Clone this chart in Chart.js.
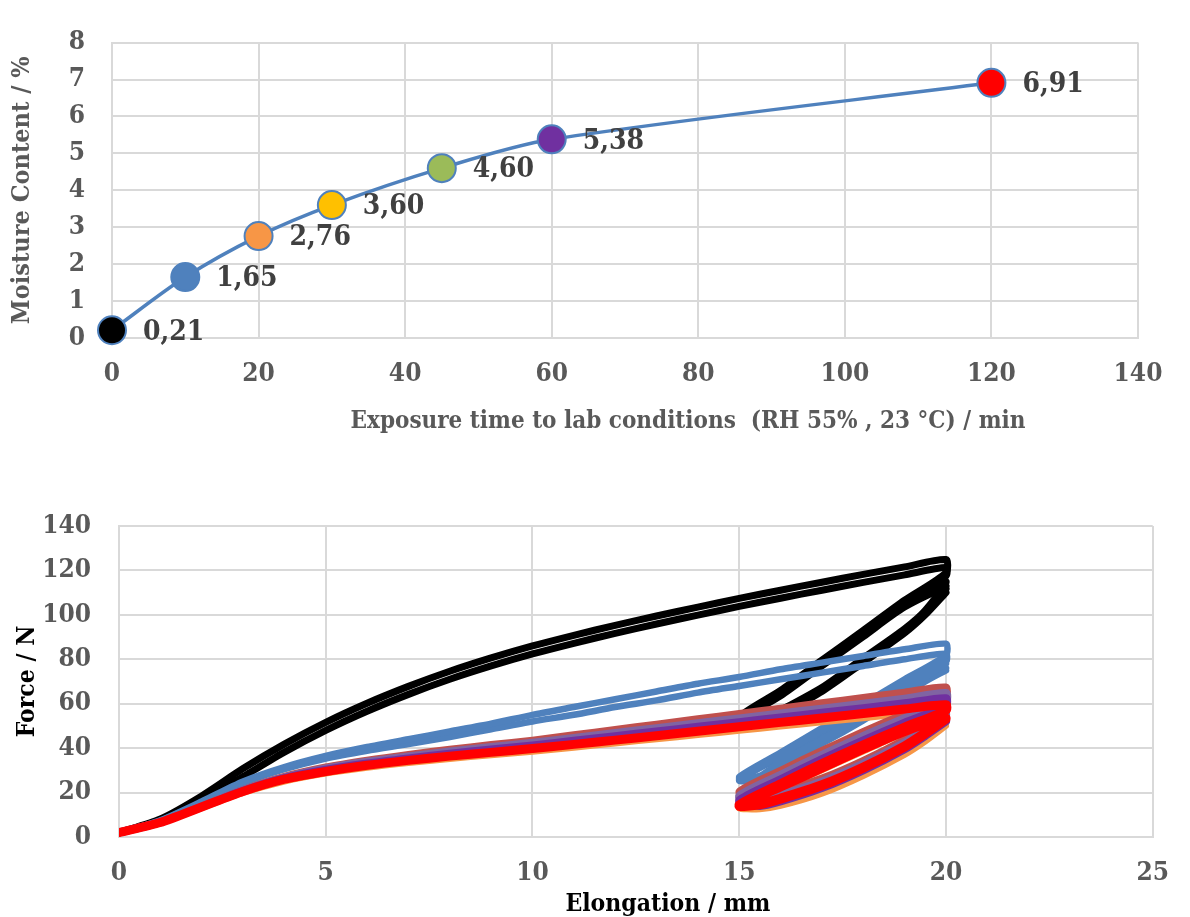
<!DOCTYPE html>
<html>
<head>
<meta charset="utf-8">
<script src="https://cdn.jsdelivr.net/npm/chart.js@4.4.1/dist/chart.umd.min.js"></script>
<style>
  html, body { margin: 0; padding: 0; background: #ffffff; }
  #wrap { position: relative; width: 1190px; height: 917px; overflow: hidden; }
  #moistureChart { position: absolute; left: 0; top: 0; }
  #forceChart { position: absolute; left: 0; top: 455px; }
</style>
</head>
<body>
<div id="wrap">
  <canvas id="moistureChart" width="1190" height="455"></canvas>
  <canvas id="forceChart" width="1190" height="462"></canvas>
</div>
<script>
// ---------- Moisture uptake vs. exposure time ----------
const exposureMin = [0, 10, 20, 30, 45, 60, 120];
const moisturePct = [0.21, 1.65, 2.76, 3.60, 4.60, 5.38, 6.91];
const markerColors = ['#000000', '#4F81BD', '#F79646', '#FFC000', '#9BBB59', '#7030A0', '#FF0000'];

// ---------- Cyclic tensile curves (Force vs. Elongation) ----------
// loading ramp, 0 -> 20 mm
const loadX = [0, 1, 2, 3, 4, 5, 6, 7, 8, 9, 10, 11, 12, 13, 14, 15, 16, 17, 18, 19, 20];
// two unload / reload cycles between 20 and 15 mm
const cycleX = [20, 19, 18, 17, 16, 15,
                15.5, 16, 17, 18, 19, 19.5, 20,
                19, 18, 17, 16, 15,
                15.5, 16, 17, 18, 19, 19.5, 20];

const blackLoadA = [2, 8.1, 18.5, 30.8, 41.8, 51.6, 60.2, 67.8, 74.6, 80.6, 86, 90.8, 95.3, 99.5, 103.5, 107.4, 111.1, 114.7, 118.2, 121.6, 124.9];
const blackLoadB = [2, 7.5, 16.5, 27.2, 38.2, 48, 56.6, 64.2, 71, 77, 82.4, 87.2, 91.7, 95.9, 99.9, 103.8, 107.5, 111.1, 114.6, 118, 121.3];
const blackCycleA = [119, 106.6, 93, 79.6, 66, 54,
                     52, 57, 67.3, 80.5, 93.7, 102, 115,
                     104.5, 91.2, 78, 64.5, 53,
                     51.5, 56, 66.3, 79.5, 92.7, 101, 113];
const blackCycleB = [117.5, 105.2, 92, 78.5, 65, 52.5,
                     51, 56, 66, 79.2, 92.5, 100.5, 112,
                     103.5, 90.2, 77, 63.5, 52,
                     50.5, 55.3, 65.5, 78.5, 91.8, 100, 110];

const blueLoadA = [2, 7.5, 16, 25, 31.5, 36.5, 40.5, 44, 47.5, 51, 55, 58.5, 62, 65.5, 69, 72, 75.5, 78.5, 81.5, 84.5, 87];
const blueLoadB = [2, 7.3, 15.5, 24.2, 30.5, 35.3, 38.8, 41.8, 45, 48.5, 52, 55, 58.5, 61.5, 65, 68, 71, 74, 77, 80, 82.5];
const blueCycleA = [82, 71, 60, 49, 38, 27,
                    27.5, 34, 44, 55, 67, 73, 79,
                    69.5, 58.5, 48, 37, 26,
                    26.5, 33, 43, 54, 66, 72, 78];
const blueCycleB = [79, 68.5, 58, 47.5, 37, 26.5,
                    27, 33, 42.5, 53, 64.5, 70.5, 76,
                    67, 56.5, 46.5, 36, 25.5,
                    26, 32.5, 42, 52.5, 64, 70, 75];

const orangeLoad = [2, 6.3, 13, 19.8, 25, 28.6, 31.2, 33.3, 35.1, 36.8, 38.4, 40.2, 42.1, 44, 45.9, 47.8, 49.7, 51.6, 53.5, 55.5, 57.5];
const orangeCycle = [55.5, 48.5, 40.5, 32, 23, 13.5,
                     13, 14.5, 20, 28, 37.5, 43.5, 50.5,
                     46.5, 38.5, 30, 21.5, 13,
                     12.5, 14, 19.5, 27.5, 37, 43, 50];
const brickLoad = [2, 6.8, 14, 21.4, 27.3, 31.5, 34.6, 37.2, 39.5, 41.6, 43.6, 46, 48.4, 50.8, 53.2, 55.6, 58, 60.4, 62.8, 65.2, 67.5];
const brickCycle = [63, 55.5, 47.5, 39, 30, 20.5,
                    18, 20.5, 26.5, 34.5, 44, 50, 57,
                    53.5, 45.5, 37, 28.5, 20,
                    17.5, 20, 26, 34, 43.5, 49.5, 56.5];
const lavenderLoad = [2, 6.7, 13.8, 21.1, 26.9, 30.9, 33.9, 36.3, 38.5, 40.5, 42.4, 44.6, 46.8, 49, 51.2, 53.4, 55.6, 57.8, 60, 62.3, 64.8];
const lavenderCycle = [61, 53.5, 45.5, 37, 28, 18.5,
                       16.5, 19, 25, 33, 42.5, 48.5, 55.5,
                       51.5, 43.5, 35, 26.5, 18,
                       16, 18.5, 24.5, 32.5, 42, 48, 55];
const purpleLoad = [2, 6.6, 13.6, 20.8, 26.5, 30.3, 33.1, 35.4, 37.5, 39.4, 41.2, 43.3, 45.4, 47.5, 49.6, 51.7, 53.8, 55.9, 58, 60.2, 62.5];
const purpleCycle = [59, 51.5, 43.5, 35, 26, 16.5,
                     14.5, 16.5, 22.5, 30.5, 40, 46, 52.5,
                     49.5, 41.5, 33, 24.5, 16,
                     14, 16, 22, 30, 39.5, 45.5, 52];
const redLoad = [2, 6.5, 13.5, 20.5, 26, 29.5, 32.3, 34.5, 36.4, 38.1, 39.8, 41.7, 43.6, 45.6, 47.6, 49.6, 51.6, 53.6, 55.6, 57.6, 59.5];
const redCycle = [57, 49.5, 41.5, 33, 24, 14.5,
                  15, 17.5, 23.5, 31.5, 41, 47, 53.5,
                  47.5, 39.5, 31, 22.5, 14,
                  14.5, 17, 23, 31, 40.5, 46.5, 53];

const SERIF = "'DejaVu Serif Condensed', 'DejaVu Serif', serif";
const GRID = '#D9D9D9';
const TICK_GREY = '#595959';

// Value labels next to each marker, text taken from the plotted value
const valueLabels = {
  id: 'valueLabels',
  afterDatasetsDraw(chart, args, opts) {
    const { ctx } = chart;
    const meta = chart.getDatasetMeta(0);
    const ds = chart.data.datasets[0];
    ctx.save();
    ctx.font = 'bold ' + opts.size + 'px ' + SERIF;
    ctx.fillStyle = opts.color;
    ctx.textAlign = 'left';
    ctx.textBaseline = 'middle';
    meta.data.forEach((pt, i) => {
      const v = ds.data[i].y;
      ctx.fillText(v.toFixed(2).replace('.', ','), pt.x + opts.dx, pt.y + opts.dy);
    });
    ctx.restore();
  }
};

// Horizontal axis title, centred a little right of the plot centre
const xTitle = {
  id: 'xTitle',
  afterDraw(chart, args, opts) {
    const { ctx, chartArea } = chart;
    ctx.save();
    ctx.font = 'bold ' + opts.size + 'px ' + SERIF;
    ctx.fillStyle = opts.color;
    ctx.textAlign = 'center';
    ctx.textBaseline = 'middle';
    ctx.fillText(opts.text, (chartArea.left + chartArea.right) / 2 + opts.shift, opts.y);
    ctx.restore();
  }
};

const tickFont = { family: SERIF, size: 26, weight: 'bold' };

// ---------- top chart ----------
new Chart(document.getElementById('moistureChart'), {
  type: 'line',
  data: {
    datasets: [{
      data: exposureMin.map((t, i) => ({ x: t, y: moisturePct[i] })),
      borderColor: '#4F81BD',
      borderWidth: 3.5,
      tension: 0.3,
      clip: false,
      pointRadius: 14,
      pointHoverRadius: 14,
      pointBorderWidth: 2,
      pointBorderColor: '#4F81BD',
      pointBackgroundColor: markerColors
    }]
  },
  plugins: [valueLabels, xTitle],
  options: {
    responsive: false,
    animation: false,
    devicePixelRatio: 1,
    layout: { padding: { left: 0, top: 22, right: 52, bottom: 0 } },
    plugins: {
      legend: { display: false },
      tooltip: { enabled: false },
      valueLabels: { size: 28, color: '#404040', dx: 31, dy: 2 },
      xTitle: { text: 'Exposure time to lab conditions  (RH 55% , 23 °C) / min', size: 24, color: TICK_GREY, shift: 63, y: 422 }
    },
    scales: {
      x: {
        type: 'linear', min: 0, max: 140,
        ticks: { stepSize: 20, padding: 21, font: tickFont, color: TICK_GREY },
        grid: { color: GRID, lineWidth: 2, drawTicks: false },
        border: { color: GRID, width: 2 },
        afterFit(s) { s.height = 117; }
      },
      y: {
        min: 0, max: 8,
        ticks: { stepSize: 1, padding: 27, font: tickFont, color: TICK_GREY },
        grid: { color: GRID, lineWidth: 2, drawTicks: false },
        border: { color: GRID, width: 2 },
        title: { display: true, text: 'Moisture Content / %', color: TICK_GREY,
                 font: { family: SERIF, size: 25, weight: 'bold' }, padding: { top: 7, bottom: 0 } },
        afterFit(s) { s.width = 112; }
      }
    }
  }
});

// ---------- bottom chart ----------
function curve(load, cycle) {
  return loadX.map((x, i) => ({ x: x, y: load[i] }))
    .concat(cycleX.map((x, i) => ({ x: x, y: cycle[i] })));
}
// listed from back to front
const specimens = [
  { color: '#000000', width: 7, load: blackLoadB, cycle: blackCycleB },
  { color: '#000000', width: 7, load: blackLoadA, cycle: blackCycleA },
  { color: '#4F81BD', width: 6.5, load: blueLoadB, cycle: blueCycleB },
  { color: '#4F81BD', width: 6.5, load: blueLoadA, cycle: blueCycleA },
  { color: '#F79646', width: 6, load: orangeLoad, cycle: orangeCycle },
  { color: '#C0504D', width: 7, load: brickLoad, cycle: brickCycle },
  { color: '#8064A2', width: 8, load: lavenderLoad, cycle: lavenderCycle },
  { color: '#7030A0', width: 8, load: purpleLoad, cycle: purpleCycle },
  { color: '#FF0000', width: 9, load: redLoad, cycle: redCycle }
];

new Chart(document.getElementById('forceChart'), {
  type: 'line',
  data: {
    datasets: specimens.map((s, i) => ({
      data: curve(s.load, s.cycle),
      borderColor: s.color,
      borderWidth: s.width,
      borderJoinStyle: 'round',
      borderCapStyle: 'round',
      tension: 0.25,
      pointRadius: 0,
      pointHoverRadius: 0,
      fill: false,
      order: specimens.length - i
    }))
  },
  plugins: [xTitle],
  options: {
    responsive: false,
    animation: false,
    devicePixelRatio: 1,
    layout: { padding: { left: 0, top: 71, right: 26, bottom: 0 } },
    plugins: {
      legend: { display: false },
      tooltip: { enabled: false },
      xTitle: { text: 'Elongation / mm', size: 24.5, color: '#000000', shift: 32, y: 450 }
    },
    scales: {
      x: {
        type: 'linear', min: 0, max: 25,
        ticks: { stepSize: 5, padding: 21, font: tickFont, color: TICK_GREY },
        grid: { color: GRID, lineWidth: 2, drawTicks: false },
        border: { color: GRID, width: 2 },
        afterFit(s) { s.height = 80; }
      },
      y: {
        min: 0, max: 140,
        ticks: { stepSize: 20, padding: 28, font: tickFont, color: TICK_GREY },
        grid: { color: GRID, lineWidth: 2, drawTicks: false },
        border: { color: GRID, width: 2 },
        title: { display: true, text: 'Force / N', color: '#000000',
                 font: { family: SERIF, size: 24.5, weight: 'bold' }, padding: { top: 13, bottom: 0 } },
        afterFit(s) { s.width = 119; }
      }
    }
  }
});
</script>
</body>
</html>
